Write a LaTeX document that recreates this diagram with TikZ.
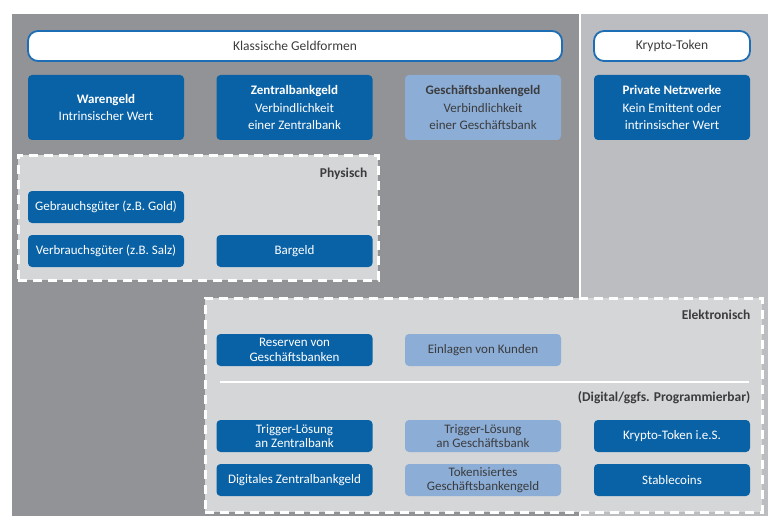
\documentclass[tikz,border=0pt]{standalone}
\usepackage{fontspec}
\setmainfont{Carlito}
\definecolor{panelgray}{RGB}{146,147,150}
\definecolor{rightgray}{RGB}{188,189,192}
\definecolor{zonegray}{RGB}{213,214,216}
\definecolor{dblue}{RGB}{10,98,166}
\definecolor{lblue}{RGB}{139,173,214}
\definecolor{pblue}{RGB}{30,110,181}
\definecolor{txtgray}{RGB}{60,60,62}

\begin{document}
\begin{tikzpicture}[x=1pt,y=-1pt,
    box/.style={rounded corners=4pt,minimum width=156pt,minimum height=32pt,
        align=center,inner sep=1pt,font=\fontsize{13}{14.5}\selectfont},
    darkbox/.style={box,fill=dblue,text=white},
    lightbox/.style={box,fill=lblue,text=txtgray},
    tallbox/.style={minimum height=65pt,font=\fontsize{13}{17.5}\selectfont},
    pill/.style={draw=pblue,line width=1.8pt,fill=white,rounded corners=10pt,
        minimum height=30pt,text=txtgray,font=\fontsize{13.5}{15}\selectfont},
    zone/.style={fill=zonegray,draw=white,line width=3pt,dash pattern=on 9pt off 6pt},
    zonelabel/.style={text=txtgray,font=\fontsize{13.5}{15}\selectfont\bfseries,inner sep=0pt}]
\useasboundingbox (0,0) rectangle (768,516);
\fill[white] (0,0) rectangle (768,516);

% Hintergrund
\fill[panelgray] (12,14) rectangle (579,516);
\fill[rightgray] (581,14) rectangle (768,516);

% Kopfzeilen
\node[pill,minimum width=534pt] (klassisch) at (295,46) {Klassische Geldformen};
\node[pill,minimum width=156pt] (krypto) at (672,46) {Krypto-Token};

% Geldformen
\node[darkbox,tallbox] (waren) at (106,107.5) {\textbf{Warengeld}\\Intrinsischer Wert};
\node[darkbox,tallbox] (zbgeld) at (294.5,107.5) {\textbf{Zentralbankgeld}\\Verbindlichkeit\\einer Zentralbank};
\node[lightbox,tallbox] (gbgeld) at (483,107.5) {\textbf{Geschäftsbankengeld}\\Verbindlichkeit\\einer Geschäftsbank};
\node[darkbox,tallbox] (privat) at (672,107.5) {\textbf{Private Netzwerke}\\Kein Emittent oder\\intrinsischer Wert};

% Physisch
\node[zone,minimum width=360pt,minimum height=125pt] (physisch) at (198,217.5) {};
\node[zonelabel,anchor=north east] at ([shift={(-12pt,-14pt)}]physisch.north east) {Physisch};
\node[darkbox] (gebrauch) at (106,207) {Gebrauchsgüter (z.B. Gold)};
\node[darkbox] (verbrauch) at (106,251) {Verbrauchsgüter (z.B. Salz)};
\node[darkbox] (bargeld) at (294.5,251) {Bargeld};

% Elektronisch
\node[zone,minimum width=557pt,minimum height=214pt] (elektro) at (483.5,405) {};
\node[zonelabel,anchor=north east] (elabel) at ([shift={(-13pt,-13pt)}]elektro.north east) {Elektronisch};
\node[darkbox] (reserven) at (294.5,350) {Reserven von\\Geschäftsbanken};
\node[lightbox] (einlagen) at (483,350) {Einlagen von Kunden};
\coordinate (trennL) at (220,382);
\coordinate (trennR) at (749,382);
\draw[white,line width=1.5pt] (trennL) -- (trennR);
\node[zonelabel,anchor=north east] (dlabel) at ([shift={(-13pt,-95pt)}]elektro.north east) {(Digital/ggfs. Programmierbar)};
\node[darkbox] (trigzb) at (294.5,436) {Trigger-Lösung\\an Zentralbank};
\node[lightbox] (triggb) at (483,436) {Trigger-Lösung\\an Geschäftsbank};
\node[darkbox] (kryptoies) at (672,436) {Krypto-Token i.e.S.};
\node[darkbox] (dzbg) at (294.5,480) {Digitales Zentralbankgeld};
\node[lightbox] (token) at (483,480) {Tokenisiertes\\Geschäftsbankengeld};
\node[darkbox] (stable) at (672,480) {Stablecoins};

\end{tikzpicture}
\end{document}
